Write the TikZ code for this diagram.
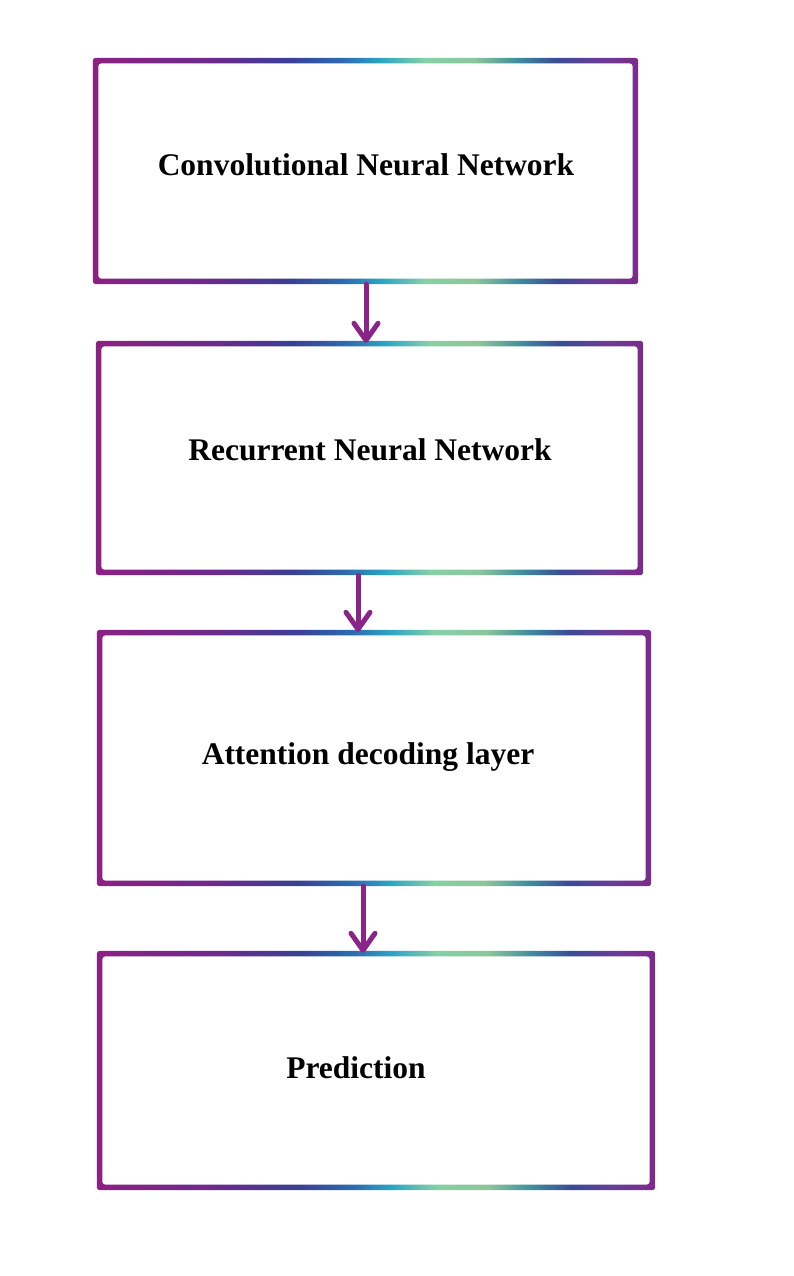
\documentclass[tikz,border=0pt]{standalone}
\usepackage{fontspec}
\setmainfont{Liberation Serif}
\usetikzlibrary{arrows.meta}
\definecolor{arrowpurple}{HTML}{8A2488}
\definecolor{gA}{HTML}{8C2182}
\definecolor{gB}{HTML}{6B2A8C}
\definecolor{gC}{HTML}{3A3F95}
\definecolor{gD}{HTML}{2C6CB0}
\definecolor{gE}{HTML}{2CA6C4}
\definecolor{gF}{HTML}{86D0A6}
\definecolor{gG}{HTML}{8CC69A}
\definecolor{gH}{HTML}{3E8C9C}
\definecolor{gI}{HTML}{3A4C96}
\definecolor{gJ}{HTML}{6A3C98}
\definecolor{gK}{HTML}{7E2A8A}
\pgfdeclarehorizontalshading{glitterframe}{100bp}{%
  color(0bp)=(gA); color(25bp)=(gA); color(36bp)=(gB); color(43bp)=(gC);
  color(48bp)=(gD); color(51.5bp)=(gE); color(55.5bp)=(gF); color(60bp)=(gG);
  color(64bp)=(gH); color(67.5bp)=(gI); color(71.5bp)=(gJ); color(75bp)=(gK);
  color(100bp)=(gK)}
\tikzset{
  framebox/.style={rectangle, draw=none, inner sep=0pt},
  boxlabel/.style={font=\bfseries\fontsize{31.5}{34}\selectfont, inner sep=0pt, anchor=center},
  flowarrow/.style={draw=arrowpurple, line width=5pt, line cap=round, line join=round,
    -{Straight Barb[length=17pt, width=24pt, line width=5pt, round]}}
}
\newcommand{\glitterframe}[1]{%
  \shade[shading=glitterframe, even odd rule, rounded corners=3pt]
    (#1.north west) rectangle (#1.south east)
    ([xshift=5.5pt,yshift=-5.5pt]#1.north west) rectangle ([xshift=-5.5pt,yshift=5.5pt]#1.south east);}
\begin{document}
\begin{tikzpicture}[x=1pt,y=-1pt]
\useasboundingbox[fill=white] (0,0) rectangle (793,1276);
\node[framebox, minimum width=545pt, minimum height=226pt] (b1) at (365.5,171) {};
\node[framebox, minimum width=547pt, minimum height=234pt] (b2) at (369.5,458) {};
\node[framebox, minimum width=554pt, minimum height=256pt] (b3) at (374,758) {};
\node[framebox, minimum width=558pt, minimum height=239pt] (b4) at (376,1070.5) {};
\glitterframe{b1}
\glitterframe{b2}
\glitterframe{b3}
\glitterframe{b4}
\node[boxlabel] (t1) at (366,165) {Convolutional Neural Network};
\node[boxlabel] (t2) at (370,450) {Recurrent Neural Network};
\node[boxlabel] (t3) at (368,757) {Attention decoding layer};
\node[boxlabel] (t4) at (356,1068) {Prediction};
\coordinate (a1s) at (b1.south -| 366,0);
\coordinate (a1e) at ([yshift=-2pt]b2.north -| 366,0);
\coordinate (a2s) at (b2.south -| 358,0);
\coordinate (a2e) at ([yshift=-2pt]b3.north -| 358,0);
\coordinate (a3s) at (b3.south -| 363,0);
\coordinate (a3e) at ([yshift=-2pt]b4.north -| 363,0);
\draw[flowarrow] (a1s) -- (a1e);
\draw[flowarrow] (a2s) -- (a2e);
\draw[flowarrow] (a3s) -- (a3e);
\end{tikzpicture}
\end{document}
